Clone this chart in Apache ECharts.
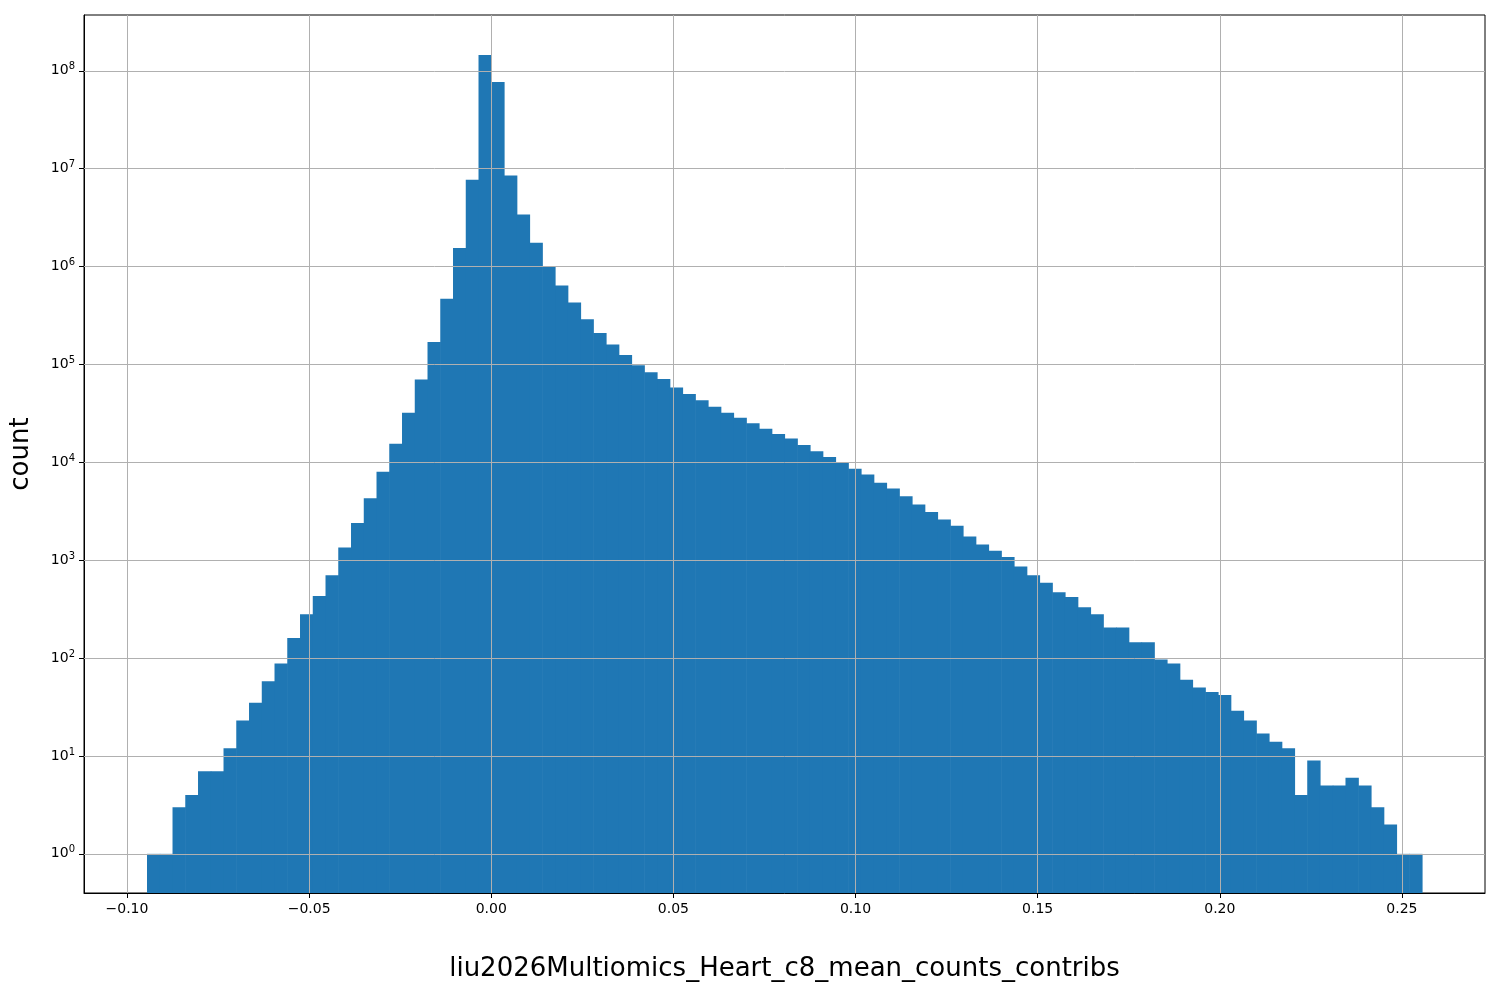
<!DOCTYPE html>
<html lang="en">
<head>
<meta charset="UTF-8" />
<title>histogram</title>
</head>
<body style="margin:0">
<div id="main" style="width:1500px;height:1000px"></div>
<script src="https://cdn.jsdelivr.net/npm/echarts@6.0.0/dist/echarts.min.js"></script>
<script>
  // bin layout: 100 bins from -0.0945 to 0.2555
  var binStart = -0.0945;
  var binWidth = 0.0035;
  var counts = [
    1, 1, 3, 4, 7, 7, 12, 23, 35, 58,
    88, 160, 280, 430, 700, 1350, 2400, 4300, 8000, 15500,
    32000, 70000, 170000, 470000, 1.55e6, 7.7e6, 1.45e8, 7.7e7, 8.5e6, 3.4e6,
    1.75e6, 1.0e6, 640000, 430000, 290000, 210000, 160000, 125000, 98000, 83000,
    71000, 58000, 50000, 43000, 37000, 32000, 28500, 25000, 22000, 19500,
    17500, 15000, 13000, 11300, 9900, 8600, 7500, 6200, 5400, 4500,
    3700, 3100, 2600, 2250, 1750, 1450, 1250, 1080, 860, 700,
    590, 470, 420, 330, 280, 205, 205, 145, 145, 97,
    88, 60, 50, 45, 42, 29, 23, 17, 14, 12,
    4, 9, 5, 5, 6, 5, 3, 2, 1, 1
  ];
  var xTicks = [-0.10, -0.05, 0.00, 0.05, 0.10, 0.15, 0.20, 0.25];
  var yExponents = [0, 1, 2, 3, 4, 5, 6, 7, 8];

  var yMin = -0.4;   // log10 of bottom
  var yMax = 8.57;

  var bars = counts.map(function (c, i) {
    var x0 = binStart + i * binWidth;
    return [x0, x0 + binWidth, Math.log10(c)];
  });

  var gridLines = xTicks.map(function (v) { return { xAxis: v }; })
    .concat(yExponents.map(function (e) { return { yAxis: e }; }));

  var myChart = echarts.init(document.getElementById("main"));
  myChart.setOption({
    animation: false,
    grid: { left: 84, right: 15, top: 15, bottom: 107, show: true, borderColor: "#000", borderWidth: 1 },
    xAxis: {
      type: "value", min: -0.1118, max: 0.2728,
      name: "liu2026Multiomics_Heart_c8_mean_counts_contribs",
      nameLocation: "middle", nameGap: 63,
      nameTextStyle: { fontSize: 26, color: "#000", fontFamily: "DejaVu Sans" },
      axisLine: { show: true, onZero: false, lineStyle: { color: "#000" } },
      splitLine: { show: false },
      axisTick: { show: true, customValues: xTicks, length: 5, lineStyle: { color: "#000" } },
      axisLabel: {
        customValues: xTicks, fontSize: 14, color: "#000", fontFamily: "DejaVu Sans", margin: 9,
        formatter: function (v) { return v.toFixed(2).replace("-", "\u2212"); }
      }
    },
    yAxis: {
      type: "value", min: yMin, max: yMax,
      name: "count", nameLocation: "middle", nameGap: 50,
      nameTextStyle: { fontSize: 26, color: "#000", fontFamily: "DejaVu Sans" },
      axisLine: { show: true, onZero: false, lineStyle: { color: "#000" } },
      splitLine: { show: false },
      axisTick: { show: true, customValues: yExponents, length: 5, lineStyle: { color: "#000" } },
      axisLabel: {
        customValues: yExponents, color: "#000", fontFamily: "DejaVu Sans", margin: 9,
        formatter: function (v) { return "{b|10}{s|" + v + "}"; },
        rich: {
          b: { fontSize: 14, color: "#000", fontFamily: "DejaVu Sans" },
          s: { fontSize: 10, color: "#000", fontFamily: "DejaVu Sans", padding: [0, 0, 8, 0] }
        }
      }
    },
    series: [
      {
        type: "custom",
        data: bars,
        encode: { x: [0, 1], y: 2 },
        renderItem: function (params, api) {
          var p0 = api.coord([api.value(0), api.value(2)]);
          var p1 = api.coord([api.value(1), yMin]);
          return {
            type: "rect",
            shape: { x: p0[0], y: p0[1], width: p1[0] - p0[0] + 0.6, height: p1[1] - p0[1] },
            style: { fill: "#1f77b4" }
          };
        },
        markLine: {
          silent: true, symbol: "none", z: 10,
          label: { show: false },
          lineStyle: { color: "#b0b0b0", type: "solid", width: 1 },
          data: gridLines
        }
      }
    ]
  });
</script>
</body>
</html>
